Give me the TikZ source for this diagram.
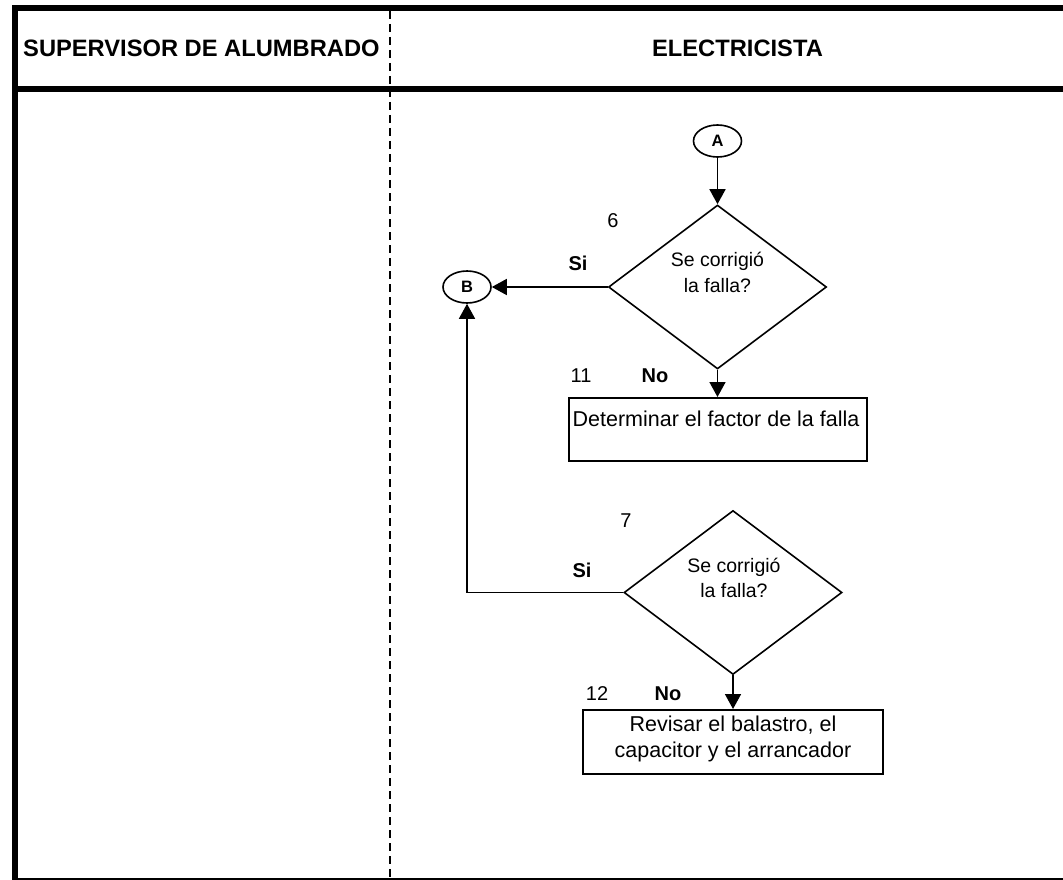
\documentclass[tikz,border=0pt]{standalone}
\usepackage{fontspec}
\setmainfont{Liberation Sans}
\usetikzlibrary{shapes.geometric,arrows.meta}
\begin{document}
\begin{tikzpicture}[x=1pt,y=-1pt,
  frame/.style={line width=6pt},
  thinframe/.style={line width=2pt},
  lane/.style={line width=1.8pt, dash pattern=on 8pt off 5pt},
  flow/.style={line width=1.6pt, -{Triangle[length=15pt,width=16pt]}},
  conn/.style={ellipse, draw, line width=1.6pt, minimum width=48pt, minimum height=32pt, inner sep=0pt, font=\fontsize{16.5}{16}\selectfont\bfseries},
  decision/.style={diamond, draw, line width=1.6pt, minimum width=218pt, minimum height=164pt, inner sep=0pt},
  proc/.style={rectangle, draw, line width=2pt, inner sep=0pt},
  dtxt/.style={anchor=base, font=\fontsize{19.5}{24}\selectfont, inner sep=0pt},
  btxt/.style={anchor=base, font=\fontsize{21.5}{26}\selectfont, inner sep=0pt},
  lbl/.style={anchor=base, font=\fontsize{20}{24}\selectfont, inner sep=0pt},
  blbl/.style={anchor=base, font=\fontsize{20}{24}\selectfont\bfseries, inner sep=0pt},
  hdr/.style={anchor=base, font=\fontsize{23.7}{28}\selectfont\bfseries, inner sep=0pt}]
\useasboundingbox (0,0) rectangle (1063,880);
% frame
\draw[frame] (15,880) -- (15,8) -- (1063,8);
\draw[frame] (15,89) -- (1063,89);
\draw[thinframe] (12,879) -- (1063,879);
\draw[lane] (390,11) -- (390,880);
% headers
\node[hdr, anchor=base west] (h1) at (23,56.5) {SUPERVISOR DE ALUMBRADO};
\node[hdr] (h2) at (737.5,56.5) {ELECTRICISTA};
% shapes
\node[conn] (A) at (717.5,141) {A};
\node[decision] (q1) at (717.5,287) {};
\node[conn] (B) at (467,287) {B};
\node[proc, minimum width=298pt, minimum height=63pt] (p1) at (717.5,429.5) {};
\node[decision] (q2) at (733,592.5) {};
\node[proc, minimum width=300pt, minimum height=64pt] (p2) at (733,742) {};
% texts
\node[dtxt] (q1a) at (717.5,266) {Se corrigió};
\node[dtxt] (q1b) at (717.5,292) {la falla?};
\node[dtxt] (q2a) at (734,572) {Se corrigió};
\node[dtxt] (q2b) at (734,597) {la falla?};
\node[btxt] (p1t) at (716,426) {Determinar el factor de la falla};
\node[btxt] (p2a) at (733,731) {Revisar el balastro, el};
\node[btxt] (p2b) at (733,757) {capacitor y el arrancador};
% labels
\node[lbl] (n6) at (613,227) {6};
\node[blbl] (si1) at (578,270) {Si};
\node[lbl] (n11) at (581,382) {11};
\node[blbl] (no1) at (655,382) {No};
\node[lbl] (n7) at (626,527) {7};
\node[blbl] (si2) at (582,577) {Si};
\node[lbl] (n12) at (597,700) {12};
\node[blbl] (no2) at (668,700) {No};
% connectors
\draw[flow] (A) -- (q1);
\draw[flow] (q1) -- (B);
\draw[flow] (q1) -- (p1);
\draw[flow] (q2.west) -| (B.south);
\draw[flow] (q2) -- (p2);
\end{tikzpicture}
\end{document}
